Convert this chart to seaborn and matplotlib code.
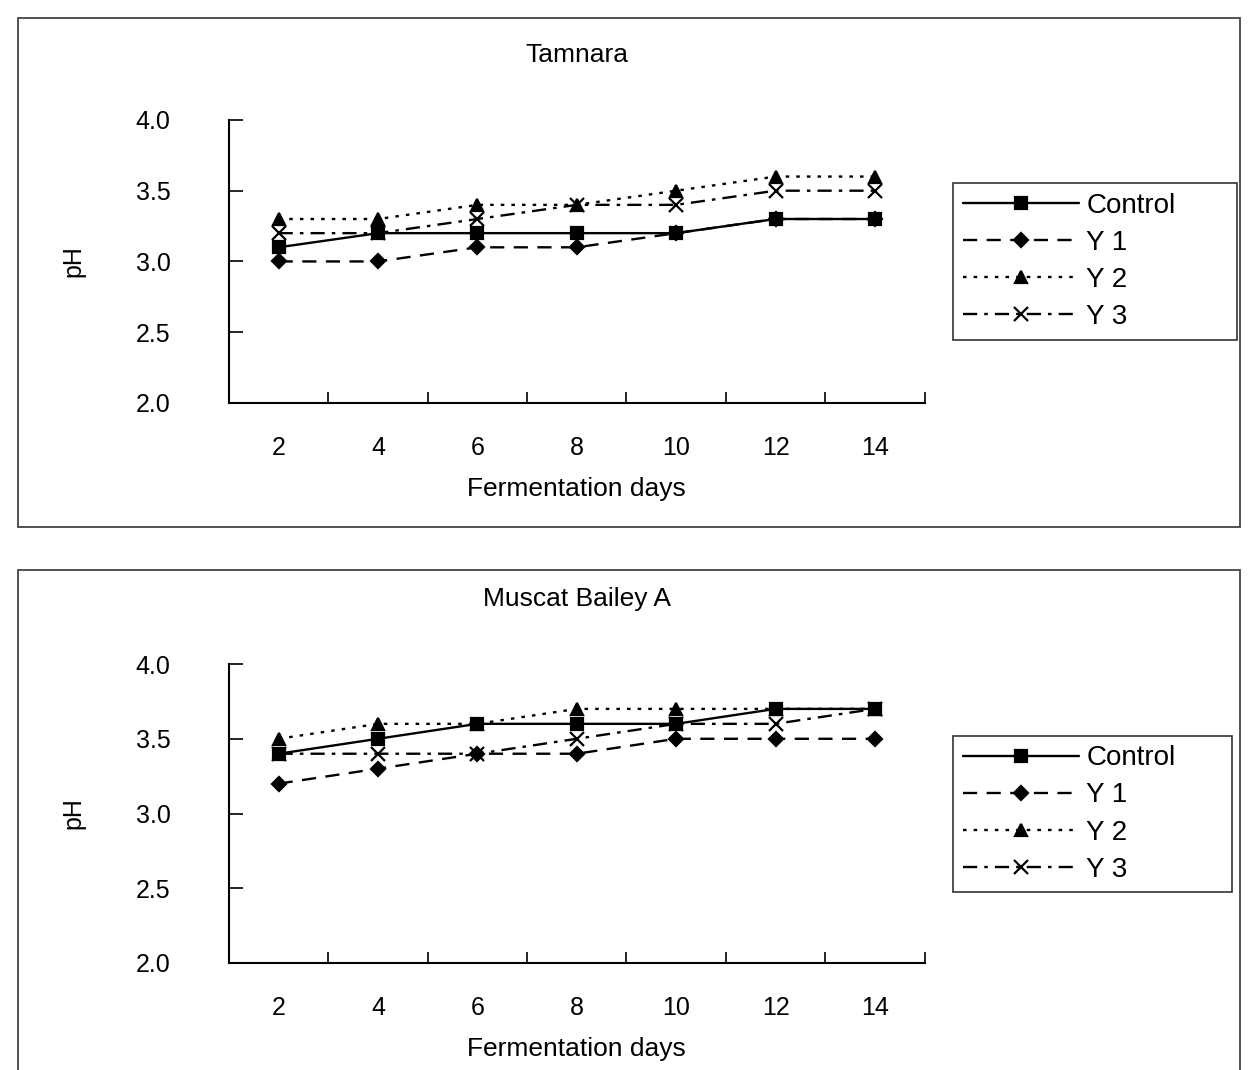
import pandas as pd
import matplotlib
matplotlib.use("Agg")
import matplotlib.pyplot as plt
from matplotlib.patches import Rectangle
import seaborn as sns

days = [2, 4, 6, 8, 10, 12, 14]
legend_names = ["Control", "Y 1", "Y 2", "Y 3"]

# Tamnara
tam_control = [3.1, 3.2, 3.2, 3.2, 3.2, 3.3, 3.3]
tam_y1 = [3.0, 3.0, 3.1, 3.1, 3.2, 3.3, 3.3]
tam_y2 = [3.3, 3.3, 3.4, 3.4, 3.5, 3.6, 3.6]
tam_y3 = [3.2, 3.2, 3.3, 3.4, 3.4, 3.5, 3.5]

# Muscat Bailey A
mba_control = [3.4, 3.5, 3.6, 3.6, 3.6, 3.7, 3.7]
mba_y1 = [3.2, 3.3, 3.4, 3.4, 3.5, 3.5, 3.5]
mba_y2 = [3.5, 3.6, 3.6, 3.7, 3.7, 3.7, 3.7]
mba_y3 = [3.4, 3.4, 3.4, 3.5, 3.6, 3.6, 3.7]

y_ticks = [2.0, 2.5, 3.0, 3.5, 4.0]

sns.set_theme(style="white")
plt.rcParams["font.family"] = ["Liberation Sans", "DejaVu Sans"]
plt.rcParams["text.color"] = "black"
plt.rcParams["axes.labelcolor"] = "black"
plt.rcParams["xtick.color"] = "black"
plt.rcParams["ytick.color"] = "black"

markers = {"Control": "s", "Y 1": "D", "Y 2": "^", "Y 3": "x"}
msizes = {"Control": 9, "Y 1": 7, "Y 2": 9, "Y 3": 10}
dashes = {"Control": (None, None), "Y 1": (6, 4), "Y 2": (1.5, 3), "Y 3": (6, 3, 1.5, 3)}

fig = plt.figure(figsize=(12.58, 10.70), dpi=100)

panels = [
    ("Tamnara", [tam_control, tam_y1, tam_y2, tam_y3],
     [0.182, 0.6234, 0.553, 0.2645], (0.7576, 0.6841, 0.2258, 0.1430)),
    ("Muscat Bailey A", [mba_control, mba_y1, mba_y2, mba_y3],
     [0.182, 0.1000, 0.553, 0.2794], (0.7576, 0.1701, 0.2218, 0.1383)),
]

# panel frames
fig.patches.append(Rectangle((0.0143, 0.5075), 0.9714, 0.4755, transform=fig.transFigure,
                             fill=False, lw=1.3, ec="#444444"))
fig.patches.append(Rectangle((0.0143, -0.01), 0.9714, 0.4773, transform=fig.transFigure,
                             fill=False, lw=1.3, ec="#444444"))

for title, series, pos, leg_box in panels:
    ax = fig.add_axes(pos)
    for name, vals in zip(legend_names, series):
        df = pd.DataFrame({"Fermentation days": days, "pH": vals})
        line_kw = {} if name == "Control" else {"dashes": dashes[name]}
        sns.lineplot(data=df, x="Fermentation days", y="pH", color="black", lw=1.7,
                     marker=markers[name], markersize=msizes[name],
                     markeredgecolor="black", markeredgewidth=1.6,
                     label=name, ax=ax, **line_kw)
    ax.set_xlim(1, 15)
    ax.set_ylim(2.0, 4.0)
    ax.set_xticks(days)
    ax.set_xticklabels([str(d) for d in days], fontsize=18)
    ax.set_xticks(range(3, 16, 2), minor=True)
    ax.set_yticks(y_ticks)
    ax.set_yticklabels([f"{t:.1f}" for t in y_ticks], fontsize=18)
    ax.tick_params(axis="y", direction="in", length=10, width=1.2, pad=42, left=True)
    ax.tick_params(axis="x", which="major", length=0, pad=24)
    ax.tick_params(axis="x", which="minor", direction="in", length=8, width=1.2, bottom=True)
    for s in ["top", "right"]:
        ax.spines[s].set_visible(False)
    for s in ["left", "bottom"]:
        ax.spines[s].set_color("black")
        ax.spines[s].set_linewidth(1.5)
    ax.set_xlabel("Fermentation days", fontsize=19, labelpad=12)
    ax.set_ylabel("pH", fontsize=18, labelpad=36)
    ax.set_title(title, fontsize=19, pad=42)
    handles, labels = ax.get_legend_handles_labels()
    ax.legend(handles, labels, loc="center", bbox_to_anchor=leg_box, mode="expand",
              bbox_transform=fig.transFigure, fontsize=20, frameon=True,
              fancybox=False, edgecolor="black", handlelength=4.2,
              handletextpad=0.25, labelspacing=0.4, borderpad=0.35, borderaxespad=0)
    ax.get_legend().get_frame().set_linewidth(1.2)

fig.savefig("out.png", dpi=100)
